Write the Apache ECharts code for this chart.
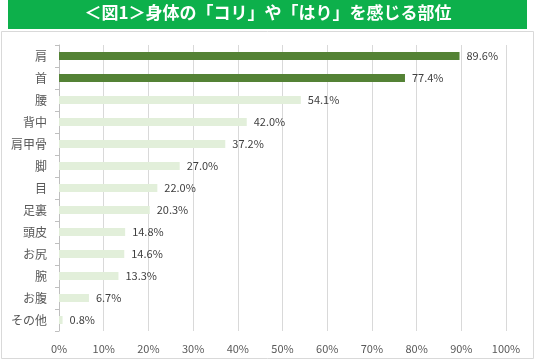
<!DOCTYPE html>
<html><head><meta charset="utf-8">
<script src="https://cdn.jsdelivr.net/npm/echarts@6/dist/echarts.min.js"></script>
<style>html,body{margin:0;padding:0;background:#fff}#c{width:536px;height:363px}</style>
</head><body><div id="c"></div>
<script>
const titleText = '＜図1＞身体の「コリ」や「はり」を感じる部位';
const categories = ['肩','首','腰','背中','肩甲骨','脚','目','足裏','頭皮','お尻','腕','お腹','その他'];
const values = [89.6, 77.4, 54.1, 42.0, 37.2, 27.0, 22.0, 20.3, 14.8, 14.6, 13.3, 6.7, 0.8];
const highlightCount = 2;
const xTicks = [0,10,20,30,40,50,60,70,80,90,100];

const chart = echarts.init(document.getElementById('c'));
const font = '"Noto Sans CJK JP", "Noto Sans", sans-serif';
chart.setOption({
  animation: false,
  graphic: [
    {type:'rect', shape:{x:1.5,y:31.5,width:532,height:327}, style:{fill:'#fff',stroke:'#d9d9d9',lineWidth:1}, z:-10},
    {type:'rect', shape:{x:8,y:0,width:519,height:29}, style:{fill:'#0db04b'}, z:-5},
    {type:'text', left:'center', top:4, style:{text:titleText, fill:'#fff', font:'bold 17px '+font}}
  ],
  grid: {left:59, right:30, top:45, bottom:32},
  xAxis: {
    type:'value', min:xTicks[0], max:xTicks[xTicks.length-1], interval:xTicks[1]-xTicks[0],
    axisLine:{show:false}, axisTick:{show:false},
    axisLabel:{formatter:'{value}%', color:'#595959', fontSize:11, fontFamily:font, margin:12},
    splitLine:{lineStyle:{color:'#d9d9d9', width:1}}
  },
  yAxis: {
    type:'category', data:categories, inverse:true,
    axisLine:{lineStyle:{color:'#bfbfbf'}},
    axisTick:{show:true, length:4, lineStyle:{color:'#bfbfbf'}},
    axisLabel:{color:'#595959', fontSize:12, fontFamily:font, margin:12}
  },
  series: [{
    type:'bar', barWidth:8,
    data: values.map((v,i)=>({value:v, itemStyle:{color: i<highlightCount ? '#548235' : '#e2efda'}})),
    label:{show:true, position:'right', distance:7, color:'#404040', fontSize:11, fontFamily:font,
      formatter:p=>p.value.toFixed(1)+'%'}
  }]
});
</script></body></html>
